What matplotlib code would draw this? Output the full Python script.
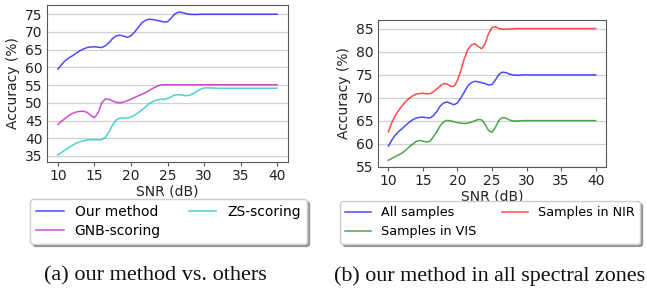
import matplotlib
matplotlib.use('Agg')
import matplotlib.pyplot as plt

# ---------------- data ----------------
snr = [10, 10.5, 11, 11.5, 12, 12.5, 13, 13.5, 14, 14.5, 15, 15.5, 16, 16.5,
       17, 17.5, 18, 18.5, 19, 19.5, 20, 20.5, 21, 21.5, 22, 22.5, 23, 23.5,
       24, 24.5, 25, 25.5, 26, 26.5, 27, 27.5, 28, 28.5, 29, 29.5, 30,
       31, 32, 35, 40]

our_method = [59.5, 60.8, 61.9, 62.7, 63.3, 64.0, 64.7, 65.2, 65.6, 65.75,
              65.8, 65.7, 65.6, 66.1, 67.0, 68.2, 68.9, 69.1, 68.8, 68.5,
              68.9, 70.0, 71.3, 72.6, 73.3, 73.6, 73.5, 73.3, 73.1, 72.8,
              72.9, 73.9, 75.1, 75.6, 75.5, 75.2, 75.0, 74.95, 74.95, 75.0,
              75.0, 75.0, 75.0, 75.0, 75.0]

gnb_scoring = [43.9, 44.8, 45.6, 46.4, 47.0, 47.4, 47.6, 47.6, 47.3, 46.4,
               45.8, 47.2, 50.0, 51.1, 51.0, 50.5, 50.1, 50.0, 50.2, 50.6,
               51.0, 51.5, 52.0, 52.4, 52.9, 53.5, 54.1, 54.6, 55.0, 55.1,
               55.1, 55.1, 55.1, 55.1, 55.1, 55.1, 55.1, 55.1, 55.1, 55.1,
               55.1, 55.1, 55.1, 55.1, 55.1]

zs_scoring = [35.3, 36.0, 36.7, 37.4, 38.0, 38.6, 39.0, 39.3, 39.5, 39.6,
              39.6, 39.5, 39.6, 40.3, 41.8, 43.8, 45.2, 45.7, 45.7, 45.7,
              46.0, 46.5, 47.2, 48.0, 48.9, 49.7, 50.4, 50.8, 51.0, 51.0,
              51.2, 51.7, 52.2, 52.3, 52.2, 52.0, 52.1, 52.6, 53.2, 53.8,
              54.2, 54.2, 54.1, 54.1, 54.1]

samples_nir = [62.6, 64.6, 66.1, 67.3, 68.3, 69.2, 69.9, 70.4, 70.8, 70.95,
               71.0, 70.9, 70.9, 71.3, 71.9, 72.6, 73.1, 73.0, 72.5, 72.5,
               73.8, 76.0, 78.6, 80.5, 81.5, 81.8, 81.2, 80.7, 81.8, 84.0,
               85.3, 85.5, 85.1, 84.95, 84.95, 85.0, 85.05, 85.1, 85.1, 85.1,
               85.1, 85.1, 85.1, 85.1, 85.1]

samples_vis = [56.4, 56.8, 57.2, 57.6, 58.0, 58.6, 59.3, 59.9, 60.5, 60.7,
               60.6, 60.4, 60.5, 61.5, 62.6, 63.9, 64.8, 65.1, 65.0, 64.8,
               64.6, 64.5, 64.4, 64.5, 64.7, 65.0, 65.3, 65.2, 64.2, 62.9,
               62.5, 63.6, 65.1, 65.7, 65.6, 65.2, 65.0, 64.95, 65.0, 65.05,
               65.05, 65.05, 65.05, 65.05, 65.05]

x_ticks = [10, 15, 20, 25, 30, 35, 40]
y_ticks_a = [35, 40, 45, 50, 55, 60, 65, 70, 75]
y_ticks_b = [55, 60, 65, 70, 75, 80, 85]

labels_a = ['Our method', 'GNB-scoring', 'ZS-scoring']
labels_b = ['All samples', 'Samples in VIS', 'Samples in NIR']
caption_a = '(a) our method vs. others'
caption_b = '(b) our method in all spectral zones'

# ---------------- figure ----------------
plt.rcParams['font.family'] = ['DejaVu Sans']
fig = plt.figure(figsize=(6.47, 2.91), dpi=100)

ax1 = fig.add_axes([47/647, 1 - 162/291, 241/647, 157/291])
ax2 = fig.add_axes([378/647, 1 - 167/291, 228/647, 147/291])

alpha = 0.7
lw = 1.1
l1, = ax1.plot(snr, our_method, color='b', alpha=alpha, lw=lw)
l2, = ax1.plot(snr, gnb_scoring, color='m', alpha=alpha, lw=lw)
l3, = ax1.plot(snr, zs_scoring, color='c', alpha=alpha, lw=lw)

m1, = ax2.plot(snr, our_method, color='b', alpha=alpha, lw=lw)
m2, = ax2.plot(snr, samples_vis, color='g', alpha=alpha, lw=lw)
m3, = ax2.plot(snr, samples_nir, color='r', alpha=alpha, lw=lw)

for ax, yt in ((ax1, y_ticks_a), (ax2, y_ticks_b)):
    ax.set_xticks(x_ticks)
    ax.set_yticks(yt)
    ax.yaxis.grid(True, color='#d0d0d0', lw=0.9)
    ax.set_axisbelow(True)
    for s in ax.spines.values():
        s.set_color('0.35')
        s.set_linewidth(0.8)
    ax.tick_params(axis='both', labelsize=10, colors='0.35', labelcolor='#222222')
    ax.tick_params(axis='y', length=0, pad=3)
    ax.tick_params(axis='x', length=3, pad=2)
    ax.set_xlabel('SNR (dB)', fontsize=10, color='#222222', labelpad=1)
    ax.set_ylabel('Accuracy (%)', fontsize=10, color='#222222', labelpad=4)

fig.legend([l1, l2, l3], labels_a, ncol=2, loc='upper center',
           bbox_to_anchor=(168.5/647, 1 - 199/291), fontsize=10,
           shadow=True, fancybox=True, borderaxespad=0, handletextpad=0.8,
           labelspacing=0.4)
fig.legend([m1, m2, m3], labels_b, ncol=2, loc='upper center',
           bbox_to_anchor=(490/647, 1 - 201/291), fontsize=9.2,
           shadow=True, fancybox=True, borderaxespad=0, handletextpad=0.8,
           labelspacing=0.5, columnspacing=2.0)

fig.text(155.5/647, 1 - 276/291, caption_a, ha='center', va='center',
         fontsize=16, family='Liberation Serif', color='#111111')
fig.text(645/647, 1 - 276/291, caption_b, ha='right', va='center',
         fontsize=15.8, family='Liberation Serif', color='#111111')

fig.savefig('out.png', dpi=100)
